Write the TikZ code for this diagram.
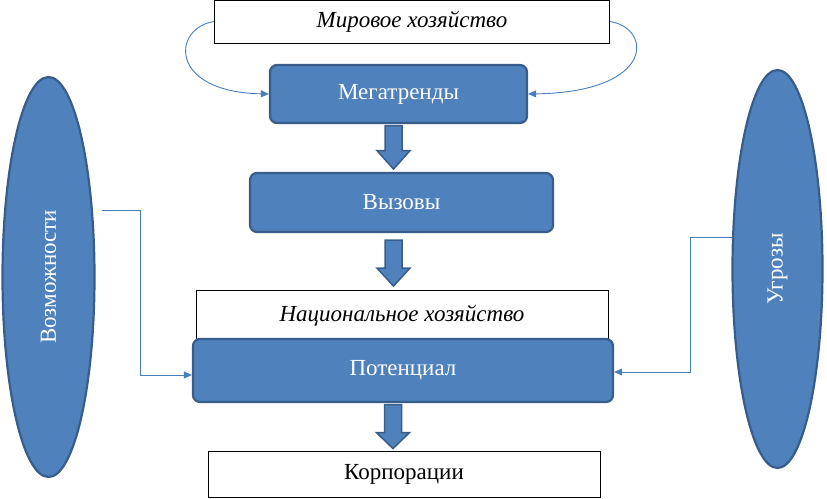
\documentclass[tikz,border=0pt]{standalone}
\usepackage{fontspec}
\setmainfont{Liberation Serif}
\usetikzlibrary{shapes.geometric,calc,arrows.meta}
\definecolor{bfill}{HTML}{4F81BD}
\definecolor{bdraw}{HTML}{385D8A}
\definecolor{lineb}{HTML}{4A7EBB}
\tikzset{
  bluebox/.style={draw=bdraw,line width=2.2pt,fill=bfill,rounded corners=7pt,text=white,font=\fontsize{23}{26}\selectfont,inner sep=0pt},
  whitebox/.style={draw=black,line width=1pt,fill=white,font=\fontsize{23}{26}\selectfont,inner sep=0pt},
  oval/.style={ellipse,draw=bdraw,line width=2.2pt,fill=bfill,inner sep=0pt,text=white,font=\fontsize{23}{26}\selectfont},
  ovaltext/.style={rotate=90,text=white,font=\fontsize{23}{26}\selectfont},
  conn/.style={draw=lineb,line width=0.9pt,-{Triangle[length=8pt,width=7pt]}},
  blockarrow/.style={draw=bdraw,line width=1.5pt,fill=bfill,line join=miter},
}
\begin{document}
\begin{tikzpicture}[x=1pt,y=-1pt]
\useasboundingbox (0,0) rectangle (827,498);
% boxes
\node[whitebox,minimum width=395pt,minimum height=43pt] (world) at (412,21.5) {\itshape Мировое хозяйство};
\node[bluebox,minimum width=257pt,minimum height=58pt] (mega) at (398.5,94) {Мегатренды};
\node[bluebox,minimum width=303pt,minimum height=59pt] (chal) at (401.5,202.5) {Вызовы};
\node[whitebox,minimum width=412pt,minimum height=52pt] (nat) at (402,316) {\itshape Национальное хозяйство};
\node[bluebox,minimum width=420pt,minimum height=63pt] (pot) at (403,370.5) {Потенциал};
\node[whitebox,minimum width=392pt,minimum height=46pt] (corp) at (404,474) {Корпорации};
% ovals
\node[oval,minimum width=92pt,minimum height=400pt] (opp) at (48.5,277) {};
\node[ovaltext] (oppt) at (opp.center) {Возможности};
\node[oval,minimum width=90pt,minimum height=398pt] (thr) at (777.5,269) {};
\node[ovaltext] (thrt) at (thr.center) {Угрозы};
% curved connectors
\draw[conn] (world.west) .. controls (172,28) and (168,92) .. (mega.west);
\draw[conn] (world.east) .. controls (652,28) and (656,92) .. (mega.east);
% side connectors
\coordinate (oppout) at (102,210);
\coordinate (throut) at (732,237);
\draw[conn] (oppout) -- (140,210) -- (140,375) -- (pot.west |- 0,375);
\draw[conn] (throut) -- (690,237) -- (690,372) -- (pot.east |- 0,372);
% block arrows
\coordinate (a1) at ($(mega.south)+(-5,1.5)$);
\draw[blockarrow] ($(a1)+(-8.5,0)$) -- ($(a1)+(-8.5,25)$) -- ($(a1)+(-16.5,25)$) -- ($(a1)+(0,43.5)$) -- ($(a1)+(16.5,25)$) -- ($(a1)+(8.5,25)$) -- ($(a1)+(8.5,0)$) -- cycle;
\coordinate (a2) at ($(chal.south)+(-8,7)$);
\draw[blockarrow] ($(a2)+(-8.5,0)$) -- ($(a2)+(-8.5,28)$) -- ($(a2)+(-16.5,28)$) -- ($(a2)+(0,46)$) -- ($(a2)+(16.5,28)$) -- ($(a2)+(8.5,28)$) -- ($(a2)+(8.5,0)$) -- cycle;
\coordinate (a3) at ($(pot.south)+(-10,1.5)$);
\draw[blockarrow] ($(a3)+(-8.5,0)$) -- ($(a3)+(-8.5,28)$) -- ($(a3)+(-16.5,28)$) -- ($(a3)+(0,44)$) -- ($(a3)+(16.5,28)$) -- ($(a3)+(8.5,28)$) -- ($(a3)+(8.5,0)$) -- cycle;
\end{tikzpicture}
\end{document}
